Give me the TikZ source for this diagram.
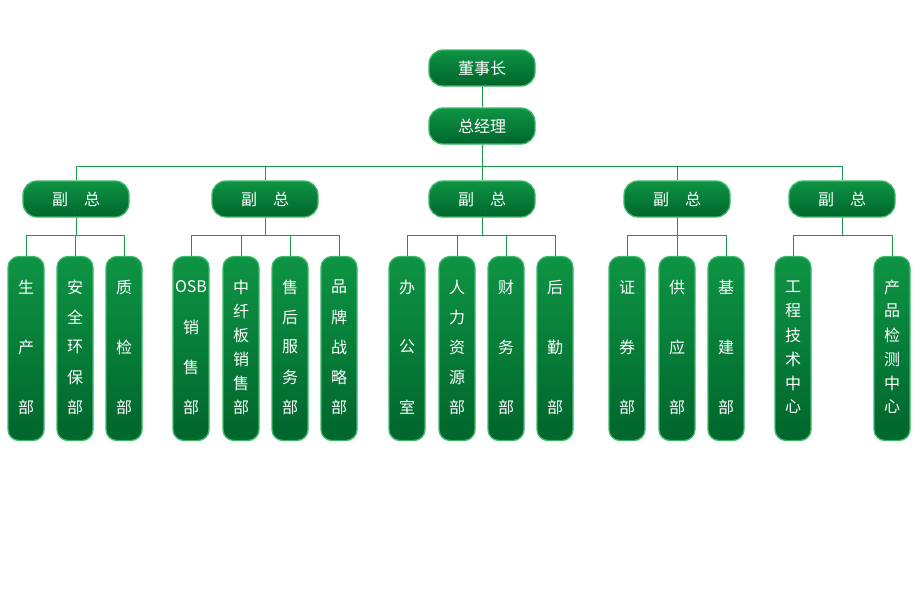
\documentclass[tikz,border=0pt]{standalone}
\usepackage{fontspec}
\setmainfont{Noto Sans CJK SC}
\begin{document}
\begin{tikzpicture}[x=1pt,y=-1pt,
  gbox/.style={draw=gb,line width=1.3pt,top color=gt,bottom color=gd,rounded corners=12pt},
  ln/.style={draw=gl,line width=0.8pt},
  wt/.style={text=white,font=\fontsize{16}{16}\selectfont,inner sep=0pt}]
\definecolor{gb}{HTML}{3DB86A}
\definecolor{gt}{HTML}{0E9444}
\definecolor{gd}{HTML}{00652C}
\definecolor{gl}{HTML}{1A9A48}
\useasboundingbox (0,0) rectangle (920,600);
% top
\node[gbox,minimum width=106pt,minimum height=36pt,rounded corners=14pt] (dsz) at (482,68) {};
\node[wt] at (dsz) {董事长};
\node[gbox,minimum width=106pt,minimum height=36pt,rounded corners=14pt] (zjl) at (482,126) {};
\node[wt] at (zjl) {总经理};
\draw[ln] (dsz.south) -- (zjl.north);
\coordinate (busL) at (77,166);
\coordinate (busR) at (843,166);
\draw[ln] (busL) -- (busR);
\draw[ln] (zjl.south) -- (482,166);
\newcommand\vp[2]{%
  \node[gbox,minimum width=106pt,minimum height=36pt,rounded corners=14pt] (v#1) at (#2,199) {};
  \node[wt] at (v#1) {副\hspace{1em}总};
  \draw[ln] (#2,166) -- (v#1.north);
  \draw[ln] (v#1.south) -- (#2,235);}
\vp{1}{76}\vp{2}{265}\vp{3}{482}\vp{4}{677}\vp{5}{842}
\newcommand\col[4]{%
  \node[gbox,minimum width=36pt,minimum height=184pt,rounded corners=11pt] (c#1) at (#2,348.5) {};
  \draw[ln] (#2,235) -- (c#1.north);
  \foreach \t [count=\i] in {#4} {\node[wt] at (#2,{287+(\i-1)*120/(#3-1)}) {\t};}}
\col{a}{26}{3}{生,产,部}
\col{b}{75}{5}{安,全,环,保,部}
\col{c}{124}{3}{质,检,部}
\col{d}{191}{4}{OSB,销,售,部}
\col{e}{241}{6}{中,纤,板,销,售,部}
\col{f}{290}{5}{售,后,服,务,部}
\col{g}{339}{5}{品,牌,战,略,部}
\col{h}{407}{3}{办,公,室}
\col{i}{457}{5}{人,力,资,源,部}
\col{j}{506}{3}{财,务,部}
\col{k}{555}{3}{后,勤,部}
\col{l}{627}{3}{证,券,部}
\col{m}{677}{3}{供,应,部}
\col{n}{726}{3}{基,建,部}
\col{o}{793}{6}{工,程,技,术,中,心}
\col{p}{892}{6}{产,品,检,测,中,心}
\draw[ln] (26,235) -- (124,235);
\draw[ln] (191,235) -- (339,235);
\draw[ln] (407,235) -- (555,235);
\draw[ln] (627,235) -- (726,235);
\draw[ln] (793,235) -- (892,235);
\end{tikzpicture}
\end{document}
